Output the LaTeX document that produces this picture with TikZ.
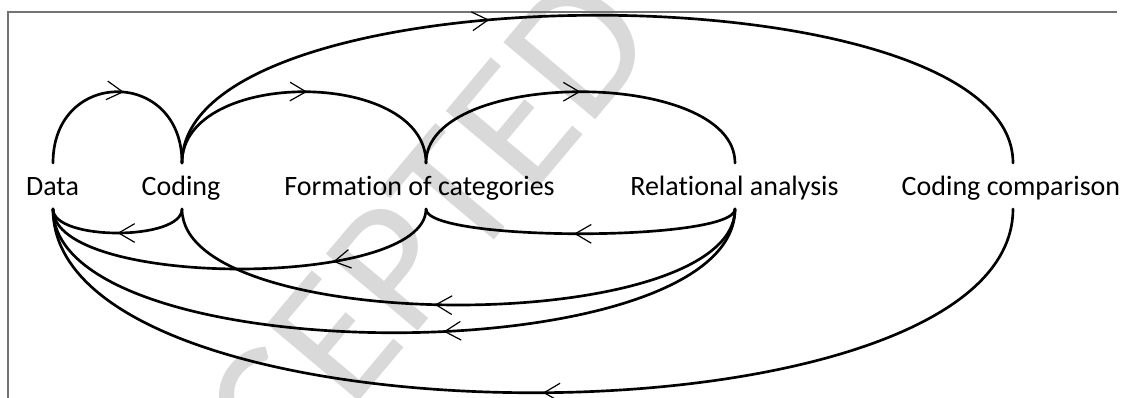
\documentclass[tikz,border=0pt]{standalone}
\usepackage{fontspec}
\setmainfont{Carlito}[Ligatures=NoCommon]
\usetikzlibrary{calc,arrows.meta,decorations.markings}
\begin{document}
\begin{tikzpicture}[x=0.75pt,y=-0.75pt,
  lbl/.style={anchor=base,inner sep=0pt,font=\fontsize{21}{25}\selectfont},
  flow/.style={line width=2pt,line cap=round,postaction={decorate},
    decoration={markings,mark=at position #1 with {\arrow{Straight Barb[length=12pt,width=14pt,line width=0.9pt]}}}},
  frame/.style={draw=black!55,line width=1pt},
  wmark/.style={rotate=50,text=black!15,inner sep=0pt,font=\fontsize{140}{140}\selectfont}]
\useasboundingbox (0,0) rectangle (1129,398);
% watermark
\begin{scope}
  \clip (0,0) rectangle (1129,398);
  \node[wmark] (wm) at (362,305) {ACCEPTED};
\end{scope}
% frame
\draw[frame] (8,398) -- (8,12) -- (1117,12);
% labels
\node[lbl] (data) at (52.5,196) {Data};
\node[lbl] (coding) at (181,196) {Coding};
\node[lbl] (form) at (419.5,196) {Formation of categories};
\node[lbl] (rel) at (734.5,196) {Relational analysis};
\node[lbl] (comp) at (1011,196) {Coding comparison};
% connection points
\coordinate (dT) at (53,163);   \coordinate (dB) at (53,209);
\coordinate (cT) at (182,163);  \coordinate (cB) at (182,209);
\coordinate (fT) at (426,163);  \coordinate (fB) at (426,209);
\coordinate (rT) at (735,163);  \coordinate (rB) at (735,209);
\coordinate (ccT) at (1013,163); \coordinate (ccB) at (1013,209);
% forward arcs (top)
\draw[flow=0.53] (dT) .. controls ($(dT)+(0,-95)$) and ($(cT)+(0,-95)$) .. (cT);
\draw[flow=0.51] (cT) .. controls ($(cT)+(0,-95)$) and ($(fT)+(0,-95)$) .. (fT);
\draw[flow=0.5] (fT) .. controls ($(fT)+(0,-95)$) and ($(rT)+(0,-95)$) .. (rT);
\draw[flow=0.385] (cT) .. controls ($(cT)+(0,-197)$) and ($(ccT)+(0,-197)$) .. (ccT);
% backward arcs (bottom)
\draw[flow=0.5] (cB) .. controls ($(cB)+(0,32)$) and ($(dB)+(0,32)$) .. (dB);
\draw[flow=0.274] (fB) .. controls ($(fB)+(0,80)$) and ($(dB)+(0,80)$) .. (dB);
\draw[flow=0.52] (rB) .. controls ($(rB)+(0,33)$) and ($(fB)+(0,33)$) .. (fB);
\draw[flow=0.538] (rB) .. controls ($(rB)+(0,128)$) and ($(cB)+(0,128)$) .. (cB);
\draw[flow=0.436] (rB) .. controls ($(rB)+(0,165)$) and ($(dB)+(0,165)$) .. (dB);
\draw[flow=0.491] (ccB) .. controls ($(ccB)+(0,245)$) and ($(dB)+(0,245)$) .. (dB);
\end{tikzpicture}
\end{document}
